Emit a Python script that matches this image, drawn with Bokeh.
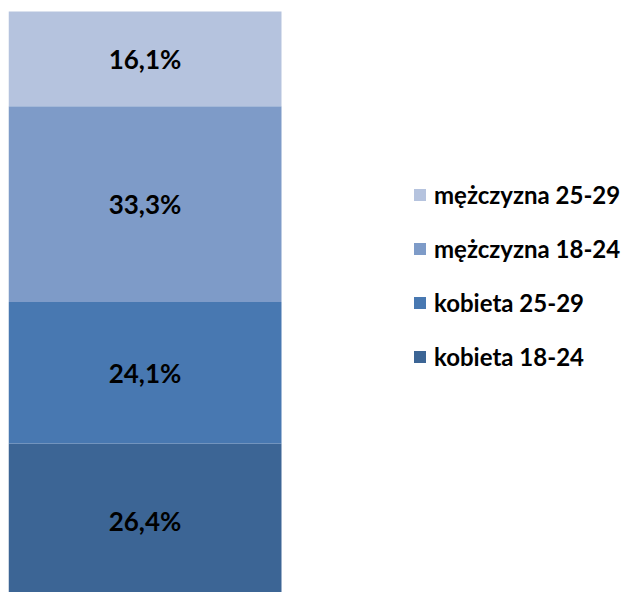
from bokeh.plotting import figure
from bokeh.models import Range1d, Legend, LegendItem, ColumnDataSource
from bokeh.core.properties import value
from bokeh.embed import file_html
from bokeh.resources import INLINE

# data (bottom to top of the stack)
series = ["kobieta 18-24", "kobieta 25-29", "mężczyzna 18-24", "mężczyzna 25-29"]
values = [26.4, 24.1, 33.3, 16.1]
labels = ["26,4%", "24,1%", "33,3%", "16,1%"]
colors = ["#3C6595", "#4878B1", "#7E9BC8", "#B5C3DE"]

FW, FH = 615, 584
p = figure(width=FW + 8, height=FH + 8, output_backend="svg", toolbar_location=None,
           x_range=Range1d(0, FW / 273.0), y_range=Range1d(1.06, 100.41),
           min_border=0, min_border_left=8, min_border_right=0,
           min_border_top=8, min_border_bottom=0)
p.axis.visible = False
p.grid.visible = False
p.outline_line_color = None
p.background_fill_color = "white"
p.border_fill_color = "white"

bottoms = []
acc = 0.0
for v in values:
    bottoms.append(acc)
    acc += v
tops = [b + v for b, v in zip(bottoms, values)]
mids = [(b + t) / 2 for b, t in zip(bottoms, tops)]

renderers = []
for i, name in enumerate(series):
    r = p.vbar(x=[0.5], width=1.0, bottom=[bottoms[i]], top=[tops[i]],
               fill_color=colors[i], line_color=None)
    renderers.append(r)

src = ColumnDataSource(dict(x=[0.5] * len(values), y=mids, t=labels))
p.text(x="x", y="y", text="t", source=src, text_align="center",
       text_baseline="middle", text_font=value("Lato"), text_font_style="bold",
       text_font_size="26px", text_color="black")

items = [LegendItem(label=series[i], renderers=[renderers[i]]) for i in reversed(range(len(series)))]
legend = Legend(items=items, location=(404, 221), orientation="vertical",
                glyph_width=15, glyph_height=15, label_standoff=7,
                label_text_font="Lato", label_text_font_style="bold",
                label_text_font_size="24px", label_text_color="black",
                spacing=25, padding=0, margin=0,
                border_line_color=None, background_fill_alpha=0)
p.add_layout(legend)

open("out.html", "w").write(file_html(p, INLINE))
